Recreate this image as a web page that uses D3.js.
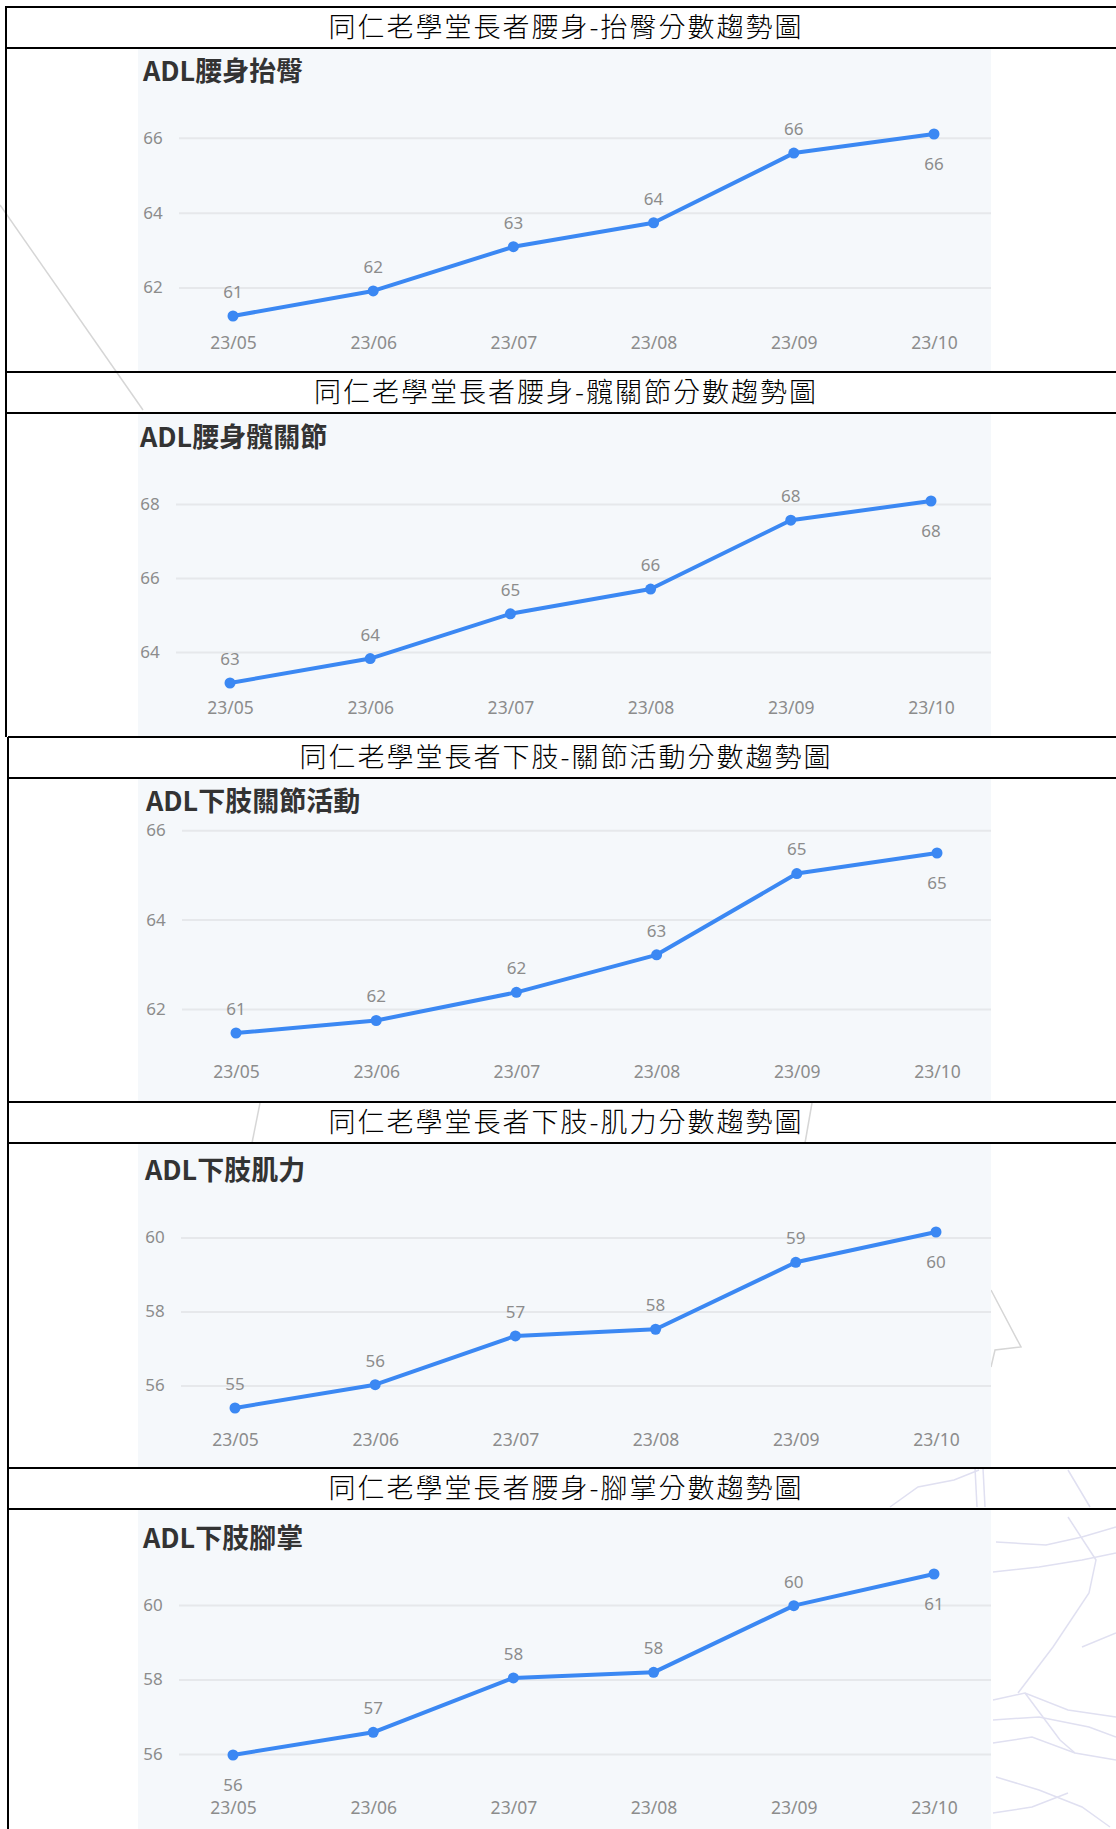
<!DOCTYPE html>
<html>
<head>
<meta charset="utf-8">
<script src="https://cdn.jsdelivr.net/npm/d3@7"></script>
<style>
  body { margin: 0; background: #fff; }
  svg { display: block; }
</style>
</head>
<body>
<div id="page"></div>
<script>
// data
const months = ["23/05", "23/06", "23/07", "23/08", "23/09", "23/10"];
const sectionTitles = [
  "同仁老學堂長者腰身-抬臀分數趨勢圖",
  "同仁老學堂長者腰身-髖關節分數趨勢圖",
  "同仁老學堂長者下肢-關節活動分數趨勢圖",
  "同仁老學堂長者下肢-肌力分數趨勢圖",
  "同仁老學堂長者腰身-腳掌分數趨勢圖"
];
const chartTitles = ["ADL腰身抬臀", "ADL腰身髖關節", "ADL下肢關節活動", "ADL下肢肌力", "ADL下肢腳掌"];
const waistHipLift = [61.24, 61.91, 63.09, 63.73, 65.59, 66.10];
const waistHipJoint = [63.16, 63.82, 65.03, 65.70, 67.56, 68.08];
const legJointMotion = [61.46, 61.74, 62.37, 63.21, 65.03, 65.49];
const legStrength = [55.39, 56.02, 57.34, 57.52, 59.33, 60.15];
const legFoot = [55.97, 56.58, 58.04, 58.19, 59.98, 60.83];
const yTicks = [[62, 64, 66], [64, 66, 68], [62, 64, 66], [56, 58, 60], [56, 58, 60]];

const series = [waistHipLift, waistHipJoint, legJointMotion, legStrength, legFoot];

// layout of each pasted chart (offsets relative to the chart image top)
const panels = [
  { dx: 0,  top: 86,  bottom: 268, title: 24, xLab: 295, below: [5] },
  { dx: -3, top: 88,  bottom: 270, title: 25, xLab: 295, below: [5] },
  { dx: 3,  top: 75,  bottom: 255, title: 24, xLab: 294, below: [5] },
  { dx: 2,  top: 89,  bottom: 265, title: 28, xLab: 297, below: [5] },
  { dx: 0,  top: 65,  bottom: 246, title: 30, xLab: 299, below: [0, 5] }
];

const W = 1116, H = 1829;
const rowTops = [7, 372, 737, 1102, 1468];
const headH = 41;
const imgX0 = 138, imgX1 = 991;
const blue = "#3b88f3";
const grey = "#8c8c8c";

const svg = d3.select("#page").append("svg")
  .attr("width", W)
  .attr("height", H);

svg.append("rect").attr("width", W).attr("height", H).attr("fill", "#fff");

// faint watermark strokes behind the table
const deco = svg.append("g").attr("fill", "none").attr("stroke-width", 1.5);
const greyLines = [
  [[0, 205], [143, 410]],
  [[260, 1103], [252, 1143]],
  [[812, 1103], [805, 1143]],
  [[991, 1290], [1021, 1347], [995, 1350], [991, 1367]]
];
const lilacLines = [
  [[890, 1507], [918, 1487], [954, 1480], [979, 1470]],
  [[975, 1468], [977, 1507]],
  [[983, 1468], [985, 1507]],
  [[1068, 1470], [1090, 1507]],
  [[996, 1542], [1046, 1545], [1082, 1537], [1116, 1527]],
  [[993, 1572], [1039, 1567], [1082, 1560], [1116, 1553]],
  [[1068, 1517], [1096, 1560], [1089, 1593], [1053, 1647], [1018, 1693]],
  [[993, 1700], [1025, 1693], [1068, 1710], [1116, 1717]],
  [[993, 1720], [1039, 1717], [1089, 1727], [1116, 1737]],
  [[993, 1743], [1032, 1737], [1075, 1753], [1116, 1760]],
  [[996, 1777], [1039, 1790], [1082, 1807], [1110, 1827]],
  [[993, 1813], [1032, 1807], [1068, 1793]],
  [[1082, 1647], [1116, 1633]],
  [[1025, 1693], [1060, 1740], [1075, 1753]]
];
const lineGen = d3.line();
deco.selectAll(".g").data(greyLines).enter().append("path")
  .attr("d", lineGen).attr("stroke", "#d6d6d6");
deco.selectAll(".l").data(lilacLines).enter().append("path")
  .attr("d", lineGen).attr("stroke", "#e0e0f1");

series.forEach((values, i) => {
  const p = panels[i];
  const rowTop = rowTops[i];
  const imgTop = rowTop + headH;
  const imgBottom = i < 4 ? rowTops[i + 1] : H;

  // pasted chart background
  svg.append("rect")
    .attr("x", imgX0)
    .attr("y", imgTop)
    .attr("width", imgX1 - imgX0)
    .attr("height", imgBottom - imgTop)
    .attr("fill", "#f5f8fb");

  const g = svg.append("g").attr("transform", `translate(${p.dx},${imgTop})`);

  const x = d3.scalePoint()
    .domain(months)
    .range([233, 934]);

  const y = d3.scaleLinear()
    .domain(d3.extent(values))
    .range([p.bottom, p.top]);

  // gridlines
  g.append("g")
    .attr("transform", "translate(179,0)")
    .call(d3.axisLeft(y).tickValues(yTicks[i]).tickSize(-(imgX1 - 179 - p.dx)).tickFormat(""))
    .call(a => a.select(".domain").remove())
    .call(a => a.selectAll("line").attr("stroke", "#e6e8eb").attr("stroke-width", 2));

  // y tick labels
  g.selectAll(".ytick")
    .data(yTicks[i])
    .enter()
    .append("text")
    .attr("x", 153)
    .attr("y", d => y(d))
    .attr("dy", "0.35em")
    .attr("text-anchor", "middle")
    .attr("font-family", "'Noto Sans', sans-serif")
    .attr("font-size", "17px")
    .attr("fill", grey)
    .text(d => d);

  // x labels
  g.append("g")
    .attr("transform", `translate(0,${p.xLab})`)
    .call(d3.axisBottom(x).tickSize(0).tickPadding(0))
    .call(a => a.select(".domain").remove())
    .call(a => a.selectAll("text")
      .attr("dy", "0.35em")
      .attr("font-family", "'Noto Sans', sans-serif")
      .attr("font-size", "17.5px")
      .attr("fill", grey));

  // line
  g.append("path")
    .datum(values)
    .attr("fill", "none")
    .attr("stroke", blue)
    .attr("stroke-width", 4)
    .attr("stroke-linejoin", "round")
    .attr("d", d3.line().x((d, j) => x(months[j])).y(d => y(d)));

  // points
  g.selectAll(".pt")
    .data(values)
    .enter()
    .append("circle")
    .attr("cx", (d, j) => x(months[j]))
    .attr("cy", d => y(d))
    .attr("r", 5.5)
    .attr("fill", blue);

  // value labels
  g.selectAll(".val")
    .data(values)
    .enter()
    .append("text")
    .attr("x", (d, j) => x(months[j]))
    .attr("y", (d, j) => y(d) + (p.below.includes(j) ? 30 : -24))
    .attr("dy", "0.35em")
    .attr("text-anchor", "middle")
    .attr("font-family", "'Noto Sans', sans-serif")
    .attr("font-size", "17px")
    .attr("fill", grey)
    .text(d => Math.round(d));

  // chart title
  g.append("text")
    .attr("x", 143)
    .attr("y", p.title)
    .attr("dy", "0.35em")
    .attr("font-family", "'Noto Sans CJK TC', sans-serif")
    .attr("font-weight", "bold")
    .attr("font-size", "27px")
    .attr("fill", "#333")
    .text(chartTitles[i]);

  // header row text
  svg.append("text")
    .attr("x", 566)
    .attr("y", rowTop + headH / 2)
    .attr("dy", "0.36em")
    .attr("text-anchor", "middle")
    .attr("font-family", "'Noto Sans CJK TC', sans-serif")
    .attr("font-weight", 300)
    .attr("font-size", "27px")
    .attr("letter-spacing", "2px")
    .attr("fill", "#000")
    .text(sectionTitles[i]);
});

// table rules
const rules = svg.append("g").attr("stroke", "#000").attr("stroke-width", 2);
rowTops.forEach((t, i) => {
  const left = i < 2 ? 6 : 8;
  rules.append("line").attr("x1", left).attr("x2", W).attr("y1", t).attr("y2", t);
  rules.append("line").attr("x1", left).attr("x2", W).attr("y1", t + headH).attr("y2", t + headH);
});
rules.append("line").attr("x1", 6).attr("x2", 6).attr("y1", rowTops[0] - 1).attr("y2", rowTops[2]);
rules.append("line").attr("x1", 8).attr("x2", 8).attr("y1", rowTops[2]).attr("y2", H);
</script>
</body>
</html>
